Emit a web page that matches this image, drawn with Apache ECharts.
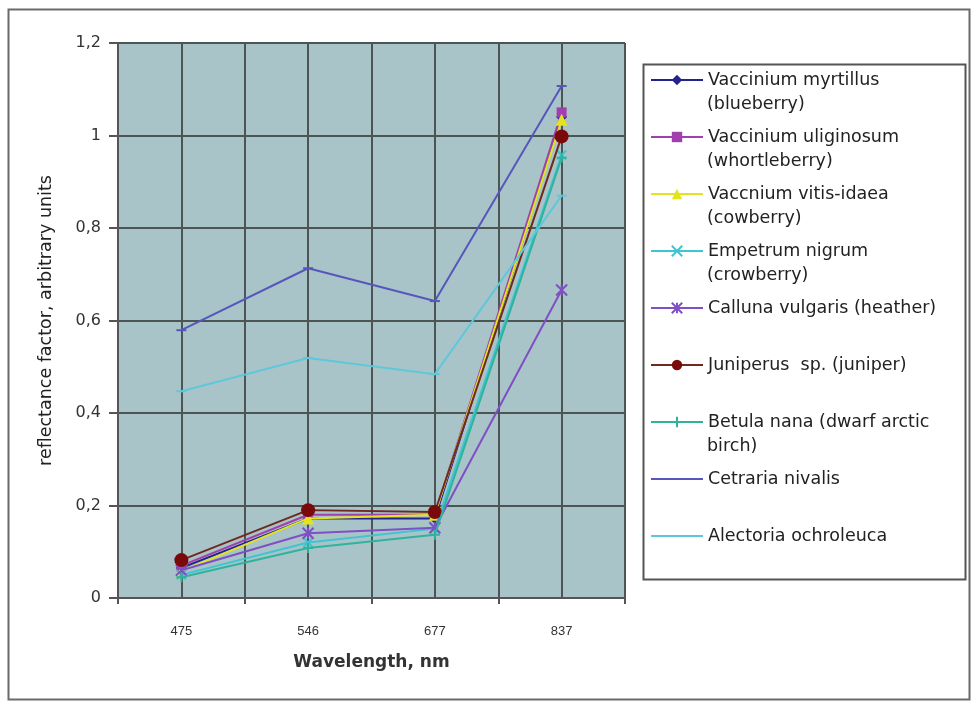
<!DOCTYPE html>
<html>
<head>
<meta charset="utf-8">
<script src="https://cdn.jsdelivr.net/npm/echarts@6/dist/echarts.min.js"></script>
<style>html,body{margin:0;padding:0;background:#fff}#c{width:971px;height:701px}</style>
</head>
<body>
<div id="c"></div>
<script>
const categories = ['475', '546', '677', '837'];
const yTicks = [0, 0.2, 0.4, 0.6, 0.8, 1, 1.2];

const blueberry    = [0.065, 0.172, 0.172, 1.04];
const whortleberry = [0.07, 0.18, 0.18, 1.05];
const cowberry     = [0.058, 0.172, 0.18, 1.034];
const crowberry    = [0.05, 0.12, 0.15, 0.958];
const heather      = [0.06, 0.14, 0.152, 0.666];
const juniper      = [0.082, 0.19, 0.186, 0.998];
const birch        = [0.045, 0.108, 0.137, 0.952];
const cetraria     = [0.579, 0.713, 0.642, 1.107];
const alectoria    = [0.447, 0.519, 0.484, 0.87];

const seriesNames = ['Vaccinium myrtillus (blueberry)', 'Vaccinium uliginosum (whortleberry)',
  'Vaccnium vitis-idaea (cowberry)', 'Empetrum nigrum (crowberry)', 'Calluna vulgaris (heather)',
  'Juniperus  sp. (juniper)', 'Betula nana (dwarf arctic birch)', 'Cetraria nivalis', 'Alectoria ochroleuca'];
const legendLine1 = ['Vaccinium myrtillus', 'Vaccinium uliginosum', 'Vaccnium vitis-idaea', 'Empetrum nigrum',
  'Calluna vulgaris (heather)', 'Juniperus  sp. (juniper)', 'Betula nana (dwarf arctic', 'Cetraria nivalis', 'Alectoria ochroleuca'];
const legendLine2 = ['(blueberry)', '(whortleberry)', '(cowberry)', '(crowberry)', '', '', 'birch)', '', ''];
const seriesData = [blueberry, whortleberry, cowberry, crowberry, heather, juniper, birch, cetraria, alectoria];

const colors = ['#23238f', '#a23fae', '#e4e41c', '#3fc4d2', '#7f4fc4', '#7a0a0a', '#2fb39c', '#5656bc', '#5ec8da'];
const lineColors = ['#23238f', '#a23fae', '#e4e41c', '#3fc4d2', '#7f4fc4', '#6e2a1e', '#2fb39c', '#5656bc', '#5ec8da'];
const symbols = ['diamond', 'rect', 'triangle',
  'path://M0,0L10,10M10,0L0,10', 'path://M0,0L10,10M10,0L0,10M5,0L5,10',
  'circle', 'path://M5,0L5,10M0,5L10,5', 'rect', 'rect'];
const symbolSizes = [11, 10, 12, 9, 11, 14, 10, [10, 2], [10, 2]];

const FONT = 'DejaVu Sans';
const chart = echarts.init(document.getElementById('c'), null, {renderer: 'canvas'});

const legendTop0 = 80, legendPitch = 57, legendFont = 17.5;
const legends = seriesNames.map((n, i) => {
  const l = {
    show: true, orient: 'horizontal', left: 650, top: legendTop0 + i * legendPitch - 11,
    padding: 0, itemWidth: 52, itemHeight: 13, itemGap: 0, selectedMode: false,
    data: [n], formatter: () => legendLine1[i],
    textStyle: {fontFamily: FONT, fontSize: legendFont, color: '#222', lineHeight: 22}
  };
  if (i >= 7) l.itemStyle = {opacity: 0};
  return l;
});

const graphics = [
  {type: 'rect', left: 6, top: 7, shape: {width: 961, height: 690}, style: {fill: 'none', stroke: '#6a6a6a', lineWidth: 2}, z: -1},
  {type: 'rect', left: 641, top: 62, shape: {width: 322, height: 515}, style: {fill: 'none', stroke: '#555', lineWidth: 2}, z: 0}
];
legendLine2.forEach((t, i) => {
  if (t) graphics.push({type: 'text', left: 707, top: legendTop0 + i * legendPitch + 26 - 11,
    style: {text: t, font: legendFont + 'px "' + FONT + '"', fill: '#222'}});
});

chart.setOption({
  animation: false,
  backgroundColor: '#ffffff',
  graphic: graphics,
  legend: legends,
  grid: {left: 118, right: 346, top: 43, bottom: 103, show: true, backgroundColor: '#a9c4c8', borderColor: '#8fa9ad', borderWidth: 1},
  xAxis: [{
    type: 'category', data: categories, boundaryGap: true,
    name: 'Wavelength, nm', nameLocation: 'middle', nameGap: 56,
    nameTextStyle: {fontFamily: FONT, fontSize: 17, fontWeight: 'bold', color: '#333'},
    axisLine: {lineStyle: {color: '#555', width: 2}},
    axisTick: {show: true, length: 6, lineStyle: {color: '#555', width: 2}},
    axisLabel: {margin: 27, fontFamily: 'Liberation Sans Narrow, Liberation Sans', fontSize: 13, color: '#333'},
    splitLine: {show: false}
  }, {
    type: 'category', data: ['', '', '', '', '', '', '', ''], boundaryGap: true, position: 'bottom',
    axisLine: {show: false}, axisTick: {show: false}, axisLabel: {show: false},
    splitLine: {show: true, lineStyle: {color: '#4c5454', width: 2}}
  }],
  yAxis: {
    type: 'value', min: 0, max: 1.2, interval: 0.2,
    name: 'reflectance factor, arbitrary units', nameLocation: 'middle', nameGap: 63,
    nameTextStyle: {fontFamily: FONT, fontSize: 17.5, color: '#222'},
    axisLine: {show: true, lineStyle: {color: '#555', width: 2}},
    axisTick: {show: true, length: 9, lineStyle: {color: '#555', width: 2}},
    axisLabel: {margin: 17, fontFamily: FONT, fontSize: 16, color: '#333',
      formatter: v => String(Math.round(v * 10) / 10).replace('.', ',')},
    splitLine: {show: true, lineStyle: {color: '#4c5454', width: 2}}
  },
  series: seriesNames.map((n, i) => ({
    name: n, type: 'line', data: seriesData[i], xAxisIndex: 0,
    symbol: symbols[i], symbolSize: symbolSizes[i], showSymbol: true,
    lineStyle: {color: lineColors[i], width: 2},
    itemStyle: {color: colors[i], borderColor: colors[i], borderWidth: (i === 3 || i === 4 || i === 6) ? 2 : 0},
    z: 2 + i
  }))
});
</script>
</body>
</html>
